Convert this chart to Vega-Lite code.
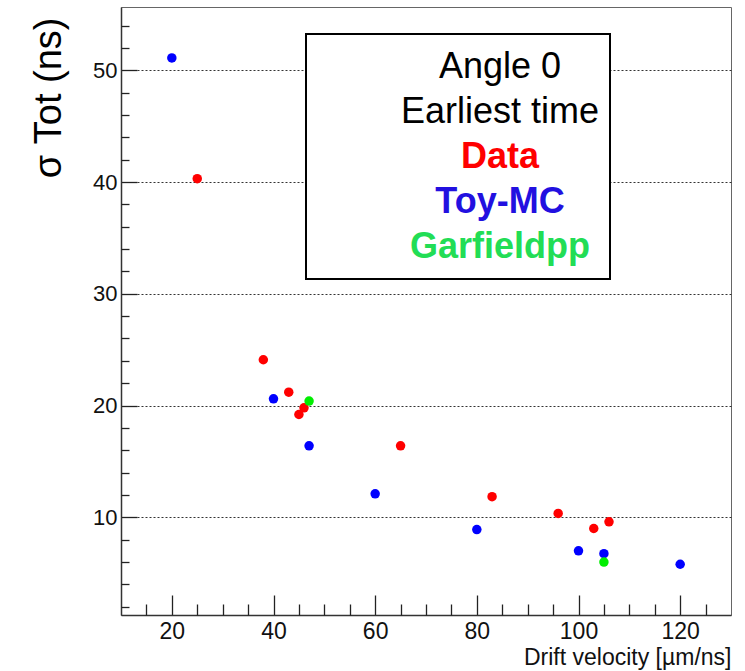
{
  "$schema": "https://vega.github.io/schema/vega-lite/v6.json",
  "width": 610,
  "height": 608,
  "autosize": {"type": "none"},
  "padding": {"left": 121, "top": 7, "right": 14, "bottom": 56},
  "background": "white",
  "config": {
    "font": "Liberation Sans",
    "view": {"stroke": "#666666", "strokeWidth": 1},
    "legend": {"strokeWidth": 2}
  },
  "data": {
    "values": [
      {"source": "Data", "velocity": 25, "sigma": 40.3},
      {"source": "Data", "velocity": 38, "sigma": 24.1},
      {"source": "Data", "velocity": 43, "sigma": 21.2},
      {"source": "Data", "velocity": 45, "sigma": 19.2},
      {"source": "Data", "velocity": 46, "sigma": 19.8},
      {"source": "Data", "velocity": 65, "sigma": 16.4},
      {"source": "Data", "velocity": 83, "sigma": 11.85},
      {"source": "Data", "velocity": 96, "sigma": 10.35},
      {"source": "Data", "velocity": 103, "sigma": 9.0},
      {"source": "Data", "velocity": 106, "sigma": 9.6},
      {"source": "Toy-MC", "velocity": 20, "sigma": 51.1},
      {"source": "Toy-MC", "velocity": 40, "sigma": 20.6},
      {"source": "Toy-MC", "velocity": 47, "sigma": 16.4},
      {"source": "Toy-MC", "velocity": 60, "sigma": 12.1},
      {"source": "Toy-MC", "velocity": 80, "sigma": 8.9},
      {"source": "Toy-MC", "velocity": 100, "sigma": 7.0},
      {"source": "Toy-MC", "velocity": 105, "sigma": 6.75},
      {"source": "Toy-MC", "velocity": 120, "sigma": 5.8},
      {"source": "Garfieldpp", "velocity": 47, "sigma": 20.4},
      {"source": "Garfieldpp", "velocity": 105, "sigma": 6.0}
    ]
  },
  "layer": [
    {
      "mark": {"type": "point", "filled": true, "size": 90, "opacity": 1},
      "encoding": {
        "x": {
          "field": "velocity",
          "type": "quantitative",
          "scale": {"domain": [10, 130], "nice": false, "zero": false},
          "axis": {
            "orient": "bottom",
            "values": [20, 40, 60, 80, 100, 120],
            "grid": false,
            "tickSize": -20,
            "tickColor": "#222222",
            "tickWidth": 1.3,
            "domainColor": "#333333",
            "domainWidth": 1.5,
            "labelFontSize": 23,
            "labelColor": "#111111",
            "labelPadding": 25,
            "title": "Drift velocity [µm/ns]",
            "titleFontSize": 23,
            "titleFontWeight": "normal",
            "titleColor": "#111111",
            "titleAnchor": "end",
            "titlePadding": 3
          }
        },
        "y": {
          "field": "sigma",
          "type": "quantitative",
          "scale": {"domain": [1.26, 55.66], "nice": false, "zero": false},
          "axis": {
            "orient": "left",
            "values": [10, 20, 30, 40, 50],
            "grid": true,
            "gridDash": [2, 2],
            "gridColor": "#333333",
            "gridWidth": 1,
            "tickSize": -16,
            "tickColor": "#222222",
            "tickWidth": 1.3,
            "domainColor": "#333333",
            "domainWidth": 1.5,
            "labelFontSize": 22,
            "labelColor": "#111111",
            "labelPadding": 20,
            "title": "σ Tot (ns)",
            "titleFontSize": 38,
            "titleFontWeight": "normal",
            "titleColor": "#000000",
            "titleAngle": -90,
            "titleAlign": "right",
            "titleBaseline": "bottom",
            "titleX": -53,
            "titleY": 10
          }
        },
        "color": {
          "field": "source",
          "type": "nominal",
          "scale": {
            "domain": ["Angle 0", "Earliest time", "Data", "Toy-MC", "Garfieldpp"],
            "range": ["#000000", "#000000", "#ff0000", "#0000ff", "#00ee00"]
          },
          "legend": {
            "orient": "none",
            "legendX": 185,
            "legendY": 27,
            "title": null,
            "labelFontSize": 36,
            "labelAlign": "center",
            "labelBaseline": "middle",
            "labelOffset": -188,
            "labelLimit": 500,
            "symbolType": "M-1,-0.05H1V0.05H-1Z",
            "symbolSize": 138384,
            "symbolOpacity": 0,
            "symbolStrokeWidth": 0,
            "symbolOffset": 0,
            "clipHeight": 45,
            "rowPadding": 0,
            "padding": 10,
            "strokeColor": "#000000",
            "fillColor": "#ffffff",
            "cornerRadius": 0,
            "encode": {
              "labels": {
                "update": {
                  "fill": {"signal": "datum.value === 'Data' ? '#ff0000' : datum.value === 'Toy-MC' ? '#2210e0' : datum.value === 'Garfieldpp' ? '#22dd55' : '#000000'"},
                  "fontWeight": {"signal": "indexof(['Data', 'Toy-MC', 'Garfieldpp'], datum.value) >= 0 ? 'bold' : 'normal'"}
                }
              },
              "symbols": {
                "update": {
                  "opacity": {"value": 0}
                }
              }
            }
          }
        }
      }
    },
    {
      "mark": {"type": "point", "opacity": 0},
      "encoding": {
        "x": {
          "field": "velocity",
          "type": "quantitative",
          "axis": {
            "orient": "bottom",
            "values": [15, 25, 30, 35, 45, 50, 55, 65, 70, 75, 85, 90, 95, 105, 110, 115, 125],
            "labels": false,
            "domain": false,
            "grid": false,
            "tickSize": -11,
            "tickColor": "#222222",
            "tickWidth": 1.3,
            "title": null
          }
        },
        "y": {
          "field": "sigma",
          "type": "quantitative",
          "axis": {
            "orient": "left",
            "values": [2, 4, 6, 8, 12, 14, 16, 18, 22, 24, 26, 28, 32, 34, 36, 38, 42, 44, 46, 48, 52, 54],
            "labels": false,
            "domain": false,
            "grid": false,
            "tickSize": -8,
            "tickColor": "#222222",
            "tickWidth": 1.3,
            "title": null
          }
        }
      }
    }
  ],
  "resolve": {"axis": {"x": "independent", "y": "independent"}}
}
